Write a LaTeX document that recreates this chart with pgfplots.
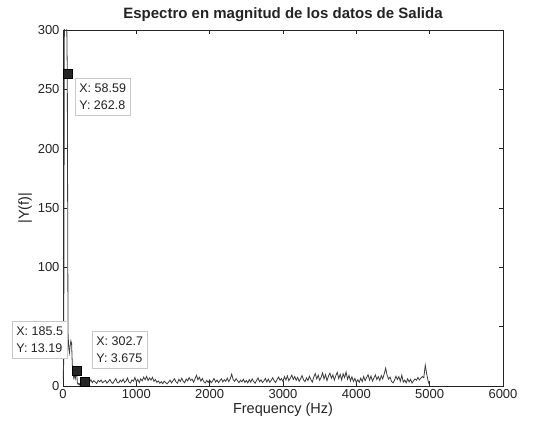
\documentclass[border=0pt]{standalone}
\usepackage{pgfplots}
\pgfplotsset{compat=1.18}
\usepackage{fontspec}
\setmainfont{Liberation Sans}
\definecolor{curve}{RGB}{60,60,60}
\definecolor{axcol}{RGB}{35,35,35}
\definecolor{tipborder}{RGB}{200,200,200}
\begin{document}
\begin{tikzpicture}
\begin{axis}[
  scale only axis, width=440pt, height=356pt,
  xmin=0, xmax=6000, ymin=0, ymax=300,
  xtick={0,1000,...,6000}, ytick={0,50,...,300},
  yticklabels={0,,100,150,200,250,300},
  /pgf/number format/assume math mode=true,
  /pgf/number format/set thousands separator={},
  scaled x ticks=false,
  tick label style={font=\fontsize{13}{15}\selectfont, text=axcol},
  label style={font=\fontsize{14.5}{17}\selectfont, text=axcol},
  title style={font=\bfseries\fontsize{15}{18}\selectfont, text=axcol, yshift=-1pt},
  title={Espectro en magnitud de los datos de Salida},
  xlabel={Frequency (Hz)}, ylabel={|Y(f)|},
  xlabel style={yshift=3pt}, ylabel style={yshift=-1pt},
  axis line style={axcol, line width=0.8pt},
  major tick style={axcol, line width=0.6pt},
  major tick length=4.5pt,
  clip=true,
]
\addplot[curve, line width=0.8pt] table {
x y
0 6
9.766 20
19.53 330
29.30 345
39.06 340
48.83 320
58.59 262.8
68.36 45
78.13 32
87.89 28
97.66 34
107.42 38
117.19 36
126.95 18
136.72 11
146.48 7
156.25 10
166.02 6
175.78 9
185.5 13.19
195.31 3
205.08 1.5
214.84 2.2
224.61 1.0
234.38 2.0
244.14 1.2
253.91 2.5
263.67 1.5
273.44 3.0
283.20 2.0
292.97 1.8
302.7 3.675
320 2.5
340 4.1
360 3.0
380 5.2
400 2.8
420 4.5
440 3.3
460 2.1
480 4.8
500 3.6
520 5.0
540 2.7
560 3.9
580 4.6
600 2.4
620 3.8
640 5.5
660 3.1
680 2.2
700 4.4
720 6.3
740 3.0
760 2.6
780 4.9
800 3.5
820 5.8
840 2.9
860 4.2
880 6.7
900 3.2
920 2.5
940 5.1
960 4.0
980 7.2
1000 3.4
1020 5.6
1040 2.8
1060 6.0
1080 4.3
1100 7.5
1120 5.2
1140 8.1
1160 4.6
1180 6.8
1200 5.0
1220 7.3
1240 3.9
1260 5.5
1280 3.1
1300 4.2
1320 2.4
1340 3.6
1360 2.0
1380 4.1
1400 2.9
1420 1.8
1440 3.3
1460 5.0
1480 2.6
1500 4.4
1520 6.2
1540 3.5
1560 2.3
1580 5.6
1600 3.8
1620 6.5
1640 4.0
1660 2.7
1680 5.9
1700 4.3
1720 7.1
1740 4.6
1760 5.8
1780 3.2
1800 6.0
1820 9.0
1840 5.2
1860 7.4
1880 4.1
1900 6.3
1920 3.6
1940 2.5
1960 4.8
1980 3.0
2000 5.1
2020 2.7
2040 4.2
2060 6.4
2080 3.3
2100 5.0
2120 2.8
2140 4.5
2160 6.1
2180 3.4
2200 5.3
2220 4.0
2240 6.6
2260 3.7
2280 5.9
2300 10.0
2320 5.5
2340 3.9
2360 6.2
2380 4.4
2400 2.8
2420 4.9
2440 3.5
2460 5.7
2480 3.0
2500 4.6
2520 2.6
2540 5.4
2560 3.2
2580 6.0
2600 3.8
2620 2.4
2640 4.7
2660 6.8
2680 3.6
2700 5.2
2720 2.9
2740 4.3
2760 6.4
2780 3.4
2800 5.8
2820 3.1
2840 4.9
2860 7.0
2880 4.2
2900 3.0
2920 5.5
2940 7.6
2960 4.8
2980 6.3
3000 3.9
3020 7.9
3040 5.0
3060 8.5
3080 4.4
3100 6.7
3120 9.2
3140 5.6
3160 8.0
3180 4.7
3200 7.3
3220 3.9
3240 6.1
3260 8.8
3280 5.2
3300 3.6
3320 6.9
3340 4.5
3360 8.2
3380 5.4
3400 3.3
3420 7.7
3440 10.5
3460 6.0
3480 9.1
3500 4.8
3520 7.4
3540 11.0
3560 5.9
3580 9.6
3600 4.5
3620 8.3
3640 10.8
3660 6.5
3680 9.4
3700 4.9
3720 8.7
3740 11.5
3760 6.2
3780 9.9
3800 5.1
3820 10.3
3840 7.0
3860 11.8
3880 5.6
3900 9.0
3920 4.3
3940 7.8
3960 3.8
3980 6.4
4000 2.9
4020 5.3
4040 3.1
4060 6.6
4080 3.7
4100 8.1
4120 4.5
4140 7.2
4160 9.5
4180 5.0
4200 8.4
4220 4.1
4240 6.8
4260 9.3
4280 5.4
4300 7.9
4320 4.6
4340 8.8
4360 6.0
4380 10.2
4400 15.0
4420 9.0
4440 5.8
4460 7.5
4480 3.9
4500 2.6
4520 4.8
4540 8.2
4560 5.5
4580 7.9
4600 4.0
4620 9.1
4640 3.3
4660 5.0
4680 2.7
4700 6.1
4720 3.4
4740 5.6
4760 2.5
4780 4.4
4800 6.0
4820 4.9
4840 7.3
4860 5.2
4880 6.6
4900 8.0
4920 7.0
4940 17.5
4960 10.0
4980 4.0
5000 0.5
};
\addplot[only marks, mark=square*, mark size=4.5pt, black, mark options={fill=black!85}] coordinates {
(58.59,262.8) (185.5,13.19) (302.7,3.675)
};
\end{axis}
\begin{scope}[shift={(current axis.south west)}]
% data tips (axis origin at bottom-left; 1pt = 1px)
\tikzset{tip/.style={draw=tipborder, fill=white, line width=0.8pt, anchor=north west, align=left,
  font=\fontsize{12.5}{17}\selectfont, text=axcol, inner xsep=4pt, inner ysep=5.5pt}}
\node[tip] at (12pt,308pt) {X: 58.59\\Y: 262.8};
\node[tip] at (-51pt,65pt) {X: 185.5\\Y: 13.19};
\node[tip] at (29pt,55pt) {X: 302.7\\Y: 3.675};
\path (-63pt,-47pt) rectangle (474pt,386pt);
\end{scope}
\end{tikzpicture}
\end{document}
